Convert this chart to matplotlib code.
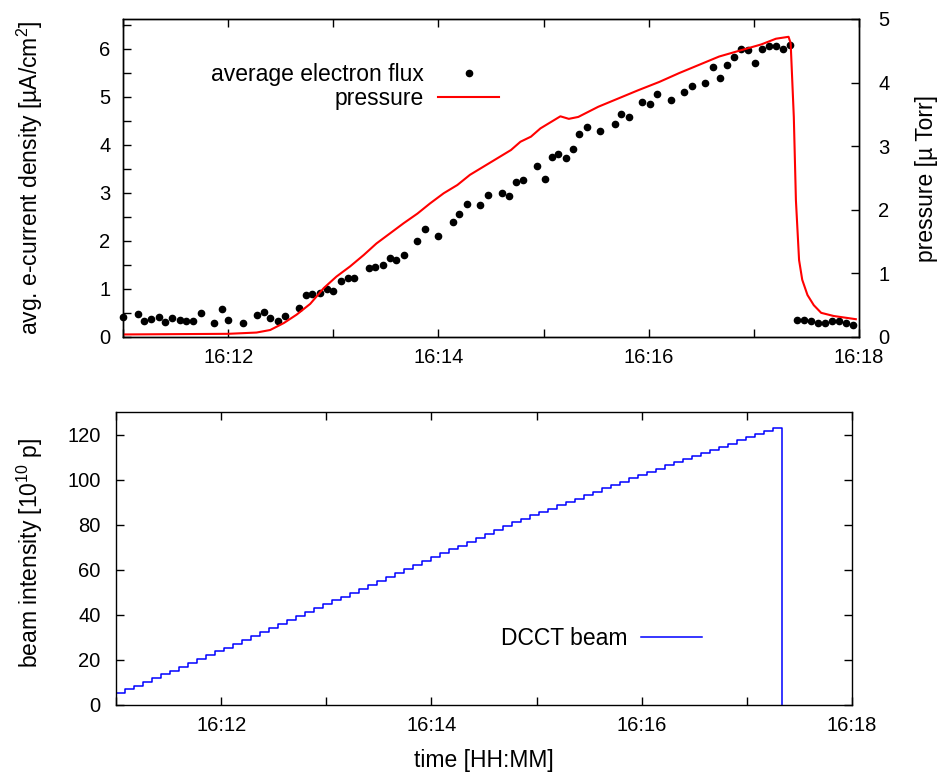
import numpy as np
import matplotlib.pyplot as plt
from matplotlib.ticker import MultipleLocator, FixedLocator

plt.rcParams['font.family'] = ['Liberation Sans', 'DejaVu Sans']
plt.rcParams['mathtext.fontset'] = 'custom'
plt.rcParams['mathtext.rm'] = 'Liberation Sans'
plt.rcParams['mathtext.it'] = 'Liberation Sans:italic'
plt.rcParams['mathtext.default'] = 'regular'

# time axis in minutes after 16:00
tick_pos = [12, 14, 16, 18]
tick_labels = ['16:12', '16:14', '16:16', '16:18']

# average electron flux [uA/cm^2]
flux_t = [11.00, 11.14, 11.20, 11.27, 11.34, 11.40, 11.47, 11.54, 11.60, 11.67,
          11.74, 11.87, 11.94, 12.00, 12.14, 12.27, 12.34, 12.40, 12.47, 12.54,
          12.67, 12.74, 12.80, 12.87, 12.94, 13.00, 13.07, 13.14, 13.20, 13.34,
          13.40, 13.47, 13.54, 13.60, 13.67, 13.80, 13.87, 14.00, 14.14, 14.20,
          14.27, 14.40, 14.47, 14.60, 14.67, 14.74, 14.80, 14.94, 15.01, 15.08,
          15.14, 15.21, 15.28, 15.34, 15.41, 15.54, 15.68, 15.74, 15.81, 15.94,
          16.01, 16.08, 16.21, 16.34, 16.41, 16.54, 16.61, 16.68, 16.74, 16.81,
          16.88, 16.94, 17.01, 17.08, 17.14, 17.21, 17.28, 17.34, 17.41, 17.48,
          17.54, 17.61, 17.68, 17.74, 17.81, 17.88, 17.94]
flux_v = [0.42, 0.48, 0.34, 0.37, 0.42, 0.31, 0.40, 0.35, 0.33, 0.34,
          0.49, 0.29, 0.59, 0.35, 0.29, 0.46, 0.53, 0.40, 0.33, 0.43,
          0.60, 0.87, 0.89, 0.91, 1.01, 0.96, 1.17, 1.22, 1.22, 1.43,
          1.46, 1.50, 1.65, 1.61, 1.71, 2.00, 2.25, 2.10, 2.40, 2.57,
          2.78, 2.75, 2.96, 2.99, 2.94, 3.22, 3.28, 3.57, 3.30, 3.76,
          3.81, 3.73, 3.91, 4.23, 4.37, 4.30, 4.44, 4.65, 4.58, 4.90,
          4.85, 5.07, 4.94, 5.10, 5.23, 5.29, 5.63, 5.40, 5.67, 5.83,
          5.99, 5.98, 5.70, 6.01, 6.07, 6.07, 5.99, 6.09, 0.35, 0.35,
          0.33, 0.29, 0.30, 0.33, 0.33, 0.30, 0.24]

# pressure [uTorr]
press_t = [11.00, 12.00, 12.27, 12.40, 12.53, 12.65, 12.78, 12.91, 13.03, 13.16,
           13.29, 13.41, 13.54, 13.67, 13.80, 13.92, 14.05, 14.18, 14.30, 14.43,
           14.56, 14.69, 14.78, 14.88, 14.97, 15.16, 15.24, 15.33, 15.52, 15.71,
           15.90, 16.10, 16.29, 16.48, 16.67, 16.88, 17.07, 17.21, 17.33, 17.35,
           17.38, 17.40, 17.43, 17.46, 17.51, 17.57, 17.64, 17.76, 17.97]
press_v = [0.04, 0.05, 0.07, 0.11, 0.22, 0.35, 0.52, 0.77, 0.95, 1.11,
           1.29, 1.47, 1.63, 1.79, 1.94, 2.10, 2.26, 2.39, 2.55, 2.68,
           2.81, 2.94, 3.07, 3.15, 3.28, 3.47, 3.43, 3.46, 3.62, 3.75,
           3.88, 4.01, 4.15, 4.28, 4.41, 4.51, 4.60, 4.69, 4.72, 4.62,
           3.46, 2.15, 1.21, 0.90, 0.66, 0.50, 0.38, 0.33, 0.28]

# DCCT beam intensity [1e10 p], times in seconds after 16:00
beam_t = [660.0, 665.1, 670.3, 675.4, 680.5, 685.7, 690.8, 695.9, 701.1, 706.2,
          711.4, 716.5, 721.6, 726.8, 731.9, 737.0, 742.2, 747.3, 752.4, 757.6,
          762.7, 767.8, 773.0, 778.1, 783.2, 788.4, 793.5, 798.6, 803.8, 808.9,
          814.1, 819.2, 824.3, 829.5, 834.6, 839.7, 844.9, 850.0, 855.1, 860.3,
          865.4, 870.5, 875.7, 880.8, 885.9, 891.1, 896.2, 901.3, 906.5, 911.6,
          916.8, 921.9, 927.0, 932.2, 937.3, 942.4, 947.6, 952.7, 957.8, 963.0,
          968.1, 973.2, 978.4, 983.5, 988.6, 993.8, 998.9, 1004.0, 1009.2, 1014.3,
          1019.5, 1024.6, 1029.7, 1034.9, 1040.0]
beam_v = [5.2, 6.9, 8.6, 10.3, 12.0, 13.7, 15.3, 17.0, 18.7, 20.4,
          22.1, 23.8, 25.5, 27.2, 28.9, 30.6, 32.4, 34.1, 35.9, 37.6,
          39.4, 41.1, 42.9, 44.6, 46.4, 48.1, 49.9, 51.6, 53.4, 55.1,
          56.8, 58.6, 60.3, 62.0, 63.8, 65.5, 67.3, 69.0, 70.7, 72.5,
          74.2, 76.0, 77.7, 79.4, 81.2, 82.7, 84.2, 85.7, 87.1, 88.6,
          90.1, 91.6, 93.1, 94.6, 96.1, 97.6, 99.1, 100.6, 102.0, 103.5,
          104.9, 106.3, 107.7, 109.1, 110.5, 111.8, 113.2, 114.6, 116.0, 117.4,
          118.8, 120.2, 121.6, 123.0, 0.0]

fs = 14.5    # tick labels
lfs = 16.5   # axis labels and legends
W, H = 940, 776
fig = plt.figure(figsize=(W / 100, H / 100), dpi=100)

# ---- top panel: electron flux + pressure
ax1 = fig.add_axes([123 / W, 1 - 337 / H, 736 / W, 318 / H])
ax1.plot(flux_t, flux_v, 'o', color='black', ms=4.5, clip_on=False,
         label='average electron flux')
ax1.set_xlim(11, 18)
ax1.set_ylim(0, 6.625)
ax1.set_ylabel(r'avg. e-current density [µA/cm$^2$]', fontsize=lfs)
ax1.yaxis.set_label_coords(-0.106, 0.5)
ax1.yaxis.set_major_locator(MultipleLocator(1))
ax1.yaxis.set_minor_locator(MultipleLocator(0.5))
ax1.xaxis.set_major_locator(FixedLocator(tick_pos))
ax1.xaxis.set_minor_locator(MultipleLocator(1))
ax1.set_xticklabels(tick_labels)
ax1.tick_params(axis='both', which='both', direction='in', length=6, width=1,
                labelsize=fs)
ax1.tick_params(axis='x', which='both', top=True, pad=8)
ax1.tick_params(axis='y', which='both', right=False, pad=9)

ax2 = ax1.twinx()
ax2.plot(press_t, press_v, color='red', lw=1.5, label='pressure')
ax2.set_ylim(0, 5)
ax2.set_ylabel('pressure [µ Torr]', fontsize=lfs)
ax2.yaxis.set_label_coords(1.076, 0.5)
ax2.tick_params(axis='y', direction='in', length=6, width=1, labelsize=fs,
                pad=14, right=True, left=False)

h1, l1 = ax1.get_legend_handles_labels()
h2, l2 = ax2.get_legend_handles_labels()
ax2.legend(h1 + h2, l1 + l2, loc='upper right', bbox_to_anchor=(0.511, 0.863),
           frameon=False, markerfirst=False, numpoints=1, handlelength=2.65,
           handletextpad=0.65, labelspacing=0.05, borderpad=0, borderaxespad=0,
           fontsize=lfs)

# ---- bottom panel: beam intensity
ax3 = fig.add_axes([116 / W, 1 - 705 / H, 736 / W, 293 / H])
ax3.plot(np.array(beam_t) / 60.0, beam_v, drawstyle='steps-post', color='blue',
         lw=1.1, label='DCCT beam')
ax3.set_xlim(11, 18)
ax3.set_ylim(0, 130)
ax3.yaxis.set_major_locator(MultipleLocator(20))
ax3.xaxis.set_major_locator(FixedLocator(tick_pos))
ax3.xaxis.set_minor_locator(MultipleLocator(1))
ax3.set_xticklabels(tick_labels)
ax3.tick_params(axis='both', which='both', direction='in', length=6, width=1,
                labelsize=fs, top=True, right=True)
ax3.tick_params(axis='x', pad=8)
ax3.tick_params(axis='y', pad=11)
ax3.set_ylabel(r'beam intensity [10$^{10}$ p]', fontsize=lfs)
ax3.yaxis.set_label_coords(-0.097, 0.52)
ax3.set_xlabel('time [HH:MM]', fontsize=lfs)
ax3.xaxis.set_label_coords(0.5, -0.15)
ax3.legend(loc='upper right', bbox_to_anchor=(0.796, 0.265), frameon=False,
           markerfirst=False, handlelength=2.65, handletextpad=0.6, borderpad=0,
           borderaxespad=0, fontsize=lfs)

for a in (ax1, ax2, ax3):
    for s in a.spines.values():
        s.set_linewidth(1.0)

fig.savefig('out.png', dpi=100)
